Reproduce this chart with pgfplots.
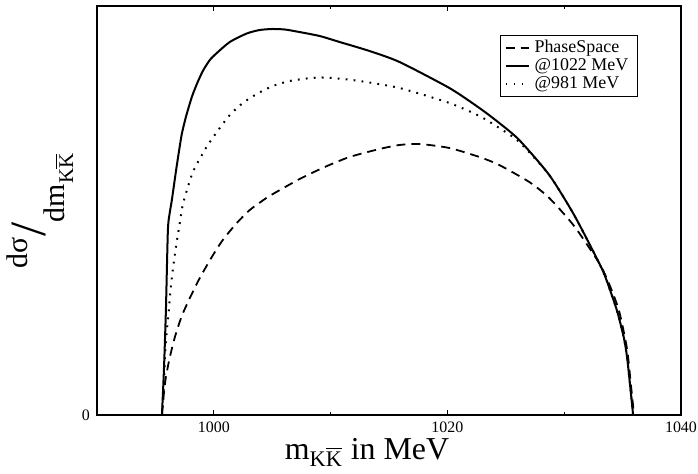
\documentclass[border=0pt]{standalone}
\usepackage{fontspec}
\usepackage{amsmath}
\usepackage{graphicx}
\setmainfont{Liberation Serif}
\usepackage{pgfplots}
\pgfplotsset{compat=1.18}
\begin{document}
\begin{tikzpicture}
\path[use as bounding box] (-48.5bp,-29.5bp) rectangle (300.5bp,207.5bp);
\begin{axis}[
  scale only axis, width=292bp, height=204.5bp,
  at={(0,0)}, anchor=south west,
  xmin=990, xmax=1040, ymin=0, ymax=409,
  xtick={1000,1020,1040}, minor xtick={1010,1030},
  ytick={0}, ytick pos=left,
  tick align=inside,
  major tick length=2.5bp, minor tick length=1.5bp,
  axis line style={line width=0.65bp},
  every tick/.style={line width=0.55bp, black},
  tick label style={font=\fontsize{8}{9}\selectfont},
  /pgf/number format/assume math mode=true,
  /pgf/number format/set thousands separator={},
  xlabel={m$_{\text{K}\overline{\text{K}}}$ in MeV},
  xlabel style={font=\fontsize{16}{18}\selectfont, at={(axis description cs:0.5,0)}, anchor=north, yshift=-8bp, xshift=-11bp},
  ylabel={\raisebox{0.65em}{dσ}\hspace{0.02em}\raisebox{0.05em}{\scalebox{1.7}{/}}\hspace{0.02em}\raisebox{-0.6em}{dm$_{\text{K}\overline{\text{K}}}$}},
  ylabel style={font=\fontsize{15}{17}\selectfont, at={(axis description cs:-0.029,0.5)}, anchor=south},
  legend style={at={(rel axis cs:0.926,0.929)}, anchor=north east, draw=black, line width=0.5bp,
    font=\fontsize{9}{10}\selectfont, row sep=0bp, inner xsep=2bp, inner ysep=1.5bp,
    nodes={inner ysep=0.8bp, inner xsep=2.5bp}},
  legend cell align=left,
  legend image code/.code={\draw[#1] (0bp,0bp) -- (11.5bp,0bp);},
]
\addplot[black, line width=0.9bp, dash pattern=on 4.5bp off 3bp, smooth, tension=0.4] coordinates {
(995.56,0) (995.64,10) (995.73,22) (995.90,38) (996.24,58) (996.67,78) (997.26,99) (997.95,117)
(998.80,137) (999.83,158) (1000.77,175) (1001.97,192) (1003.08,205) (1004.50,217) (1005.21,222)
(1007.35,236) (1009.50,248) (1011.62,258) (1014.19,266) (1015.90,270) (1017.61,271) (1020.17,267)
(1022.74,258) (1024.44,250) (1027.01,233) (1028.72,217) (1030.85,189) (1032.99,152) (1033.85,131)
(1034.70,104) (1035.38,66) (1035.73,28) (1035.98,0)};
\addlegendentry{PhaseSpace}
\addplot[black, line width=1bp, smooth, tension=0.4] coordinates {
(995.56,0) (995.73,45) (995.90,105) (996.07,185) (996.24,203) (996.41,215) (996.75,243) (997.01,263)
(997.26,281) (997.61,298) (998.12,318) (998.55,331) (999.06,344) (999.66,355) (1000.26,362)
(1001.37,373) (1002.82,381.5) (1003.93,385) (1005.04,386) (1006.07,385.5) (1007.09,383.5) (1009.06,379)
(1010.77,373) (1013.33,364) (1015.90,353) (1020.17,327) (1022.74,307) (1024.44,292) (1026.15,275)
(1028.72,240) (1030.85,200) (1032.99,152) (1033.59,136) (1034.53,104) (1035.13,76) (1035.38,58)
(1035.64,30) (1035.90,0)};
\addlegendentry{@1022 MeV}
\addplot[black, line width=1bp, dash pattern=on 0.9bp off 3.1bp, smooth, tension=0.4] coordinates {
(995.56,0) (995.73,28) (995.81,55) (995.96,82) (996.15,105) (996.32,128) (996.52,148) (996.81,172)
(997.09,192) (997.38,212) (998.21,243) (999.23,265) (999.66,273) (1000.51,287) (1001.37,300)
(1002.48,312) (1003.68,321) (1005.04,329) (1006.50,334) (1007.95,336.5) (1009.06,337.5) (1010.17,337)
(1012.48,334) (1015.90,327) (1020.17,312) (1022.74,299) (1024.44,287) (1026.15,273) (1028.72,240)
(1030.85,200) (1032.99,152) (1033.59,136) (1034.53,104) (1035.13,76) (1035.38,58) (1035.64,30) (1035.90,0)};
\addlegendentry{@981 MeV}
\end{axis}
\end{tikzpicture}
\end{document}
